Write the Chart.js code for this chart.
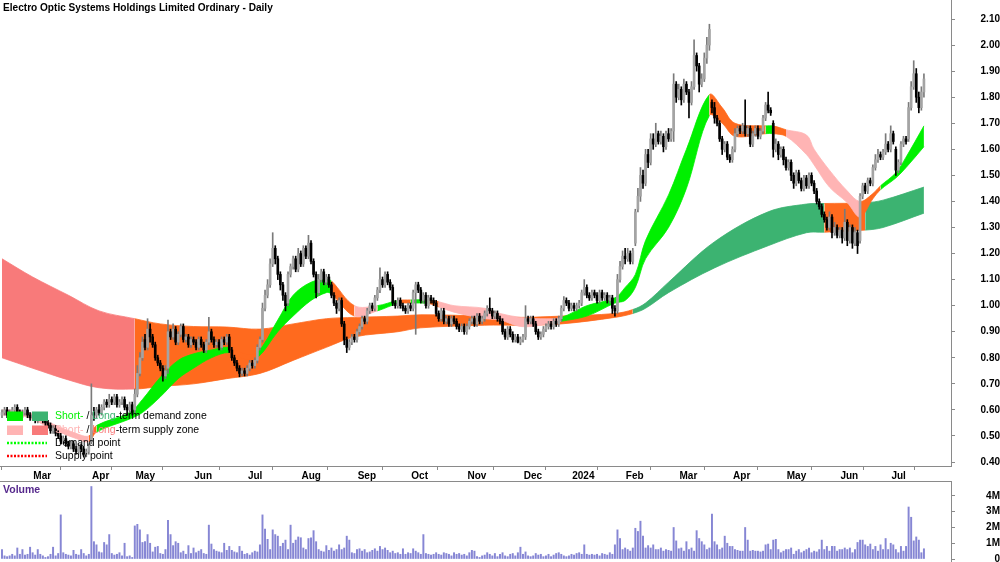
<!DOCTYPE html>
<html><head><meta charset="utf-8">
<script src="https://cdn.jsdelivr.net/npm/chart.js@4.4.1/dist/chart.umd.min.js"></script>
<style>
html,body{margin:0;padding:0;background:#fff;}
#wrap{position:relative;width:1000px;height:562px;overflow:hidden;background:#fff;}
#pc{position:absolute;left:0;top:0;}
#vc{position:absolute;left:0;top:481px;}
</style></head><body>
<div id="wrap"><canvas id="pc" width="1000" height="481"></canvas><canvas id="vc" width="1000" height="81"></canvas></div>
<script>
// ---------- DATA ----------
const titleText = 'Electro Optic Systems Holdings Limited Ordinary - Daily';
const monthStart = [12,35,52,75,96,117,139,160,182,204,223,244,265,286,307,328,348];
const monthLabels = ['Mar','Apr','May','Jun','Jul','Aug','Sep','Oct','Nov','Dec','2024','Feb','Mar','Apr','May','Jun','Jul'];
const priceTicks = [0.40,0.50,0.60,0.70,0.80,0.90,1.00,1.10,1.20,1.30,1.40,1.50,1.60,1.70,1.80,1.90,2.00,2.10];
const volumeTicks = [0,1,2,3,4];

const openP = [
0.58,0.59,0.60,0.58,0.59,0.60,0.61,0.59,0.58,0.59,
0.60,0.58,0.57,0.58,0.56,0.57,0.58,0.56,0.55,0.54,
0.52,0.53,0.51,0.50,0.48,0.49,0.47,0.46,0.47,0.45,
0.44,0.46,0.45,0.43,0.44,0.48,0.59,0.58,0.60,0.59,
0.61,0.63,0.62,0.64,0.63,0.65,0.62,0.63,0.64,0.61,
0.60,0.62,0.60,0.66,0.74,0.80,0.87,0.84,0.91,0.88,
0.85,0.80,0.78,0.76,0.73,0.76,0.90,0.88,0.91,0.86,
0.89,0.92,0.87,0.88,0.85,0.87,0.86,0.84,0.87,0.85,
0.83,0.86,0.90,0.87,0.85,0.86,0.84,0.87,0.86,0.88,
0.83,0.80,0.78,0.76,0.74,0.75,0.74,0.76,0.78,0.77,
0.79,0.84,0.87,0.99,1.04,1.08,1.16,1.22,1.18,1.12,
1.08,1.04,1.01,1.12,1.15,1.18,1.14,1.20,1.16,1.22,
1.19,1.24,1.17,1.12,1.05,1.10,1.13,1.09,1.11,1.08,
1.04,1.01,0.99,1.02,0.93,0.87,0.84,0.86,0.88,0.87,
0.90,0.92,0.95,0.94,0.98,1.00,0.99,1.03,1.06,1.10,
1.08,1.12,1.09,1.07,1.01,1.00,1.02,1.00,0.99,0.98,
1.00,0.99,1.05,1.08,1.06,1.02,1.04,1.00,1.03,1.02,
1.01,0.97,0.95,0.98,0.94,0.95,0.93,0.95,0.94,0.92,
0.91,0.92,0.90,0.92,0.94,0.95,0.93,0.96,0.94,0.95,
0.97,0.99,0.98,0.96,0.97,0.95,0.94,0.90,0.88,0.91,
0.89,0.87,0.88,0.86,0.87,0.88,0.95,0.94,0.95,0.93,
0.90,0.88,0.89,0.91,0.92,0.93,0.92,0.94,0.93,0.95,
0.99,1.02,1.01,0.99,1.00,0.99,1.00,1.01,1.05,1.07,
1.04,1.03,1.05,1.04,1.02,1.05,1.03,1.04,1.02,1.03,
0.99,0.98,1.10,1.15,1.19,1.18,1.20,1.17,1.24,1.37,
1.42,1.50,1.47,1.58,1.55,1.64,1.62,1.66,1.63,1.65,
1.61,1.66,1.64,1.67,1.85,1.80,1.83,1.79,1.85,1.82,
1.78,1.84,1.96,1.92,1.85,1.87,1.95,2.00,1.78,1.76,
1.72,1.70,1.64,1.60,1.62,1.57,1.56,1.60,1.66,1.68,
1.67,1.69,1.66,1.68,1.62,1.66,1.68,1.65,1.67,1.72,
1.77,1.75,1.70,1.60,1.62,1.58,1.60,1.56,1.53,1.55,
1.50,1.47,1.51,1.48,1.45,1.49,1.46,1.50,1.47,1.44,
1.40,1.38,1.35,1.33,1.30,1.34,1.28,1.30,1.27,1.29,
1.26,1.32,1.25,1.30,1.24,1.28,1.25,1.42,1.46,1.44,
1.48,1.47,1.53,1.56,1.58,1.57,1.59,1.62,1.60,1.66,
1.60,1.52,1.55,1.62,1.64,1.64,1.76,1.84,1.89,1.80,
1.76,1.82];

const highP = [
0.60,0.61,0.61,0.60,0.61,0.62,0.62,0.60,0.60,0.61,
0.61,0.59,0.59,0.59,0.58,0.59,0.59,0.57,0.56,0.55,
0.54,0.54,0.52,0.51,0.50,0.50,0.48,0.48,0.48,0.46,
0.47,0.47,0.46,0.45,0.47,0.70,0.61,0.61,0.62,0.62,
0.64,0.64,0.66,0.65,0.66,0.66,0.64,0.65,0.65,0.62,
0.63,0.63,0.68,0.77,0.82,0.88,0.89,0.95,0.93,0.89,
0.86,0.81,0.79,0.77,0.77,0.945,0.91,0.93,0.92,0.90,
0.93,0.93,0.89,0.89,0.88,0.88,0.87,0.88,0.88,0.86,
0.87,0.955,0.91,0.88,0.87,0.87,0.88,0.88,0.89,0.89,
0.84,0.81,0.79,0.77,0.76,0.76,0.77,0.79,0.79,0.80,
0.85,0.88,1.01,1.06,1.10,1.18,1.28,1.23,1.19,1.13,
1.09,1.05,1.13,1.16,1.19,1.19,1.22,1.21,1.23,1.23,
1.27,1.25,1.18,1.13,1.12,1.14,1.14,1.12,1.12,1.09,
1.05,1.02,1.03,1.03,0.94,0.88,0.87,0.89,0.89,0.91,
0.93,0.96,0.96,0.99,1.01,1.01,1.04,1.07,1.145,1.11,
1.13,1.13,1.10,1.08,1.02,1.03,1.03,1.01,1.00,1.01,
1.01,1.06,1.09,1.09,1.07,1.05,1.05,1.04,1.04,1.03,
1.02,0.98,0.99,0.99,0.96,0.96,0.96,0.96,0.95,0.93,
0.93,0.93,0.93,0.95,0.96,0.96,0.97,0.97,0.96,0.98,
1.00,1.03,0.99,0.98,0.98,0.96,0.95,0.91,0.92,0.92,
0.90,0.89,0.89,0.88,0.89,1.00,0.96,0.96,0.96,0.94,
0.91,0.90,0.92,0.93,0.94,0.94,0.95,0.95,0.96,1.00,
1.035,1.03,1.02,1.01,1.01,1.01,1.02,1.06,1.10,1.08,
1.05,1.06,1.06,1.05,1.06,1.06,1.05,1.05,1.04,1.04,
1.00,1.12,1.17,1.21,1.22,1.22,1.21,1.22,1.37,1.45,
1.53,1.52,1.60,1.60,1.66,1.66,1.70,1.67,1.67,1.66,
1.67,1.68,1.68,1.89,1.86,1.85,1.84,1.87,1.86,1.83,
1.86,2.02,1.97,1.93,1.89,1.97,2.03,2.08,1.79,1.78,
1.73,1.71,1.65,1.63,1.63,1.58,1.61,1.68,1.69,1.69,
1.70,1.79,1.69,1.69,1.67,1.69,1.69,1.68,1.73,1.78,
1.82,1.76,1.71,1.64,1.63,1.61,1.61,1.57,1.56,1.56,
1.51,1.52,1.52,1.49,1.50,1.50,1.51,1.51,1.48,1.45,
1.41,1.39,1.36,1.34,1.36,1.35,1.32,1.31,1.30,1.30,
1.37,1.33,1.31,1.31,1.30,1.29,1.43,1.47,1.47,1.49,
1.49,1.54,1.58,1.60,1.59,1.60,1.66,1.63,1.69,1.67,
1.61,1.56,1.63,1.65,1.65,1.78,1.86,1.94,1.91,1.82,
1.84,1.89];

const lowP = [
0.57,0.58,0.57,0.57,0.58,0.59,0.58,0.57,0.57,0.58,
0.57,0.56,0.56,0.55,0.55,0.56,0.55,0.54,0.53,0.51,
0.51,0.50,0.49,0.47,0.47,0.46,0.45,0.45,0.44,0.43,
0.43,0.44,0.42,0.42,0.43,0.47,0.56,0.57,0.58,0.58,
0.60,0.61,0.61,0.62,0.62,0.61,0.61,0.62,0.60,0.58,
0.59,0.58,0.59,0.65,0.73,0.79,0.83,0.83,0.86,0.84,
0.79,0.77,0.75,0.71,0.72,0.74,0.87,0.87,0.85,0.85,
0.88,0.86,0.86,0.84,0.84,0.85,0.83,0.83,0.84,0.82,
0.82,0.85,0.86,0.84,0.84,0.83,0.83,0.85,0.85,0.82,
0.79,0.77,0.75,0.727,0.73,0.73,0.73,0.75,0.76,0.76,
0.78,0.83,0.86,0.98,1.03,1.07,1.15,1.16,1.10,1.06,
1.02,0.98,1.00,1.11,1.14,1.13,1.13,1.15,1.15,1.18,
1.18,1.16,1.11,1.03,1.04,1.09,1.08,1.08,1.07,1.03,
1.00,0.97,0.98,0.92,0.85,0.82,0.83,0.85,0.86,0.86,
0.89,0.91,0.93,0.93,0.97,0.98,0.98,1.02,1.05,1.07,
1.07,1.08,1.06,1.00,0.99,0.99,0.99,0.98,0.97,0.97,
0.98,0.98,0.89,1.05,1.01,1.01,0.99,0.99,1.01,1.00,
0.96,0.94,0.94,0.93,0.93,0.92,0.92,0.93,0.91,0.90,
0.90,0.89,0.89,0.91,0.93,0.92,0.92,0.93,0.93,0.94,
0.96,0.97,0.95,0.95,0.94,0.93,0.89,0.87,0.87,0.88,
0.86,0.86,0.857,0.85,0.86,0.87,0.93,0.93,0.92,0.89,
0.87,0.87,0.88,0.90,0.91,0.91,0.91,0.92,0.92,0.94,
0.98,1.00,0.98,0.98,0.98,0.98,0.99,1.00,1.04,1.03,
1.02,1.02,1.03,1.01,1.01,1.02,1.02,1.01,1.01,0.97,
0.96,0.97,1.09,1.14,1.16,1.17,1.16,1.16,1.23,1.36,
1.40,1.45,1.46,1.53,1.54,1.60,1.61,1.62,1.62,1.59,
1.60,1.63,1.63,1.63,1.78,1.79,1.77,1.78,1.81,1.72,
1.77,1.83,1.90,1.82,1.84,1.86,1.93,1.98,1.74,1.70,
1.69,1.63,1.58,1.59,1.56,1.55,1.55,1.59,1.65,1.66,
1.66,1.65,1.65,1.61,1.61,1.65,1.64,1.64,1.66,1.71,
1.74,1.73,1.57,1.59,1.56,1.57,1.54,1.52,1.52,1.48,
1.45,1.46,1.47,1.44,1.44,1.45,1.45,1.46,1.43,1.39,
1.37,1.34,1.32,1.29,1.29,1.26,1.27,1.26,1.26,1.24,
1.25,1.23,1.24,1.22,1.23,1.20,1.24,1.41,1.43,1.43,
1.46,1.46,1.52,1.55,1.56,1.56,1.58,1.59,1.59,1.62,
1.50,1.51,1.54,1.61,1.62,1.63,1.75,1.83,1.78,1.74,
1.75,1.80];

const closeP = [
0.59,0.60,0.58,0.59,0.60,0.61,0.59,0.58,0.59,0.60,
0.58,0.57,0.58,0.56,0.57,0.58,0.56,0.55,0.54,0.52,
0.53,0.51,0.50,0.48,0.49,0.47,0.46,0.47,0.45,0.44,
0.46,0.45,0.43,0.44,0.46,0.58,0.58,0.60,0.59,0.61,
0.63,0.62,0.64,0.63,0.65,0.62,0.63,0.64,0.61,0.60,
0.62,0.59,0.66,0.74,0.80,0.86,0.84,0.91,0.88,0.85,
0.80,0.78,0.76,0.73,0.75,0.90,0.88,0.91,0.86,0.89,
0.92,0.87,0.88,0.85,0.87,0.86,0.84,0.87,0.85,0.83,
0.86,0.90,0.87,0.85,0.86,0.84,0.87,0.86,0.88,0.83,
0.80,0.78,0.76,0.74,0.75,0.74,0.76,0.78,0.77,0.79,
0.84,0.87,0.99,1.04,1.08,1.16,1.22,1.18,1.12,1.08,
1.04,1.00,1.12,1.15,1.18,1.14,1.20,1.16,1.22,1.19,
1.24,1.17,1.12,1.05,1.10,1.13,1.09,1.11,1.08,1.04,
1.01,0.99,1.02,0.93,0.87,0.84,0.86,0.88,0.87,0.90,
0.92,0.95,0.94,0.98,1.00,0.99,1.03,1.06,1.10,1.08,
1.12,1.09,1.07,1.01,1.00,1.02,1.00,0.99,0.98,1.00,
0.99,1.05,1.08,1.06,1.02,1.04,1.00,1.03,1.02,1.01,
0.97,0.95,0.98,0.94,0.95,0.93,0.95,0.94,0.92,0.91,
0.92,0.90,0.92,0.94,0.95,0.93,0.96,0.94,0.95,0.97,
0.99,0.98,0.96,0.97,0.95,0.94,0.90,0.88,0.91,0.89,
0.87,0.88,0.86,0.87,0.88,0.95,0.94,0.95,0.93,0.90,
0.88,0.89,0.91,0.92,0.93,0.92,0.94,0.93,0.95,0.99,
1.02,1.01,0.99,1.00,0.99,1.00,1.01,1.05,1.07,1.04,
1.03,1.05,1.04,1.02,1.05,1.03,1.04,1.02,1.03,0.99,
0.98,1.10,1.15,1.19,1.18,1.20,1.17,1.21,1.36,1.42,
1.50,1.47,1.58,1.55,1.64,1.62,1.66,1.63,1.65,1.61,
1.66,1.64,1.67,1.85,1.80,1.83,1.79,1.85,1.82,1.78,
1.84,1.96,1.92,1.85,1.87,1.95,2.00,2.06,1.76,1.72,
1.70,1.64,1.60,1.62,1.57,1.56,1.60,1.66,1.68,1.67,
1.69,1.66,1.68,1.62,1.66,1.68,1.65,1.67,1.72,1.77,
1.75,1.74,1.60,1.62,1.58,1.60,1.56,1.53,1.55,1.50,
1.47,1.51,1.48,1.45,1.49,1.46,1.50,1.47,1.44,1.40,
1.38,1.35,1.33,1.30,1.34,1.28,1.30,1.27,1.29,1.26,
1.32,1.25,1.30,1.24,1.28,1.23,1.42,1.46,1.44,1.48,
1.47,1.53,1.56,1.58,1.57,1.59,1.62,1.60,1.66,1.63,
1.52,1.55,1.62,1.64,1.63,1.76,1.84,1.89,1.80,1.76,
1.82,1.87];

// volume in millions of shares
const volumeM = [
0.6,0.2,0.15,0.2,0.3,0.2,0.7,0.3,0.6,0.25,
0.3,0.75,0.4,0.25,0.6,0.3,0.2,0.1,0.15,0.3,
0.75,0.2,0.35,2.8,0.4,0.3,0.25,0.2,0.55,0.3,
0.25,0.6,0.35,0.2,0.3,4.6,1.1,0.9,0.45,0.4,
1.05,0.9,1.55,0.35,0.25,0.3,0.4,0.2,1.0,0.15,
0.2,0.1,2.1,2.2,1.85,1.05,1.1,1.55,1.0,0.45,
0.75,0.8,0.35,0.3,0.6,2.45,1.55,0.85,1.1,1.0,
0.4,0.5,0.3,0.85,0.35,0.7,0.4,0.5,0.6,0.35,
0.3,2.15,0.95,0.6,0.5,0.45,0.4,1.0,0.55,0.8,
0.55,0.45,0.4,0.8,0.5,0.3,0.35,0.25,0.4,0.5,
0.45,0.9,2.8,1.9,1.25,0.6,1.85,1.55,1.45,0.8,
1.0,1.2,0.6,2.15,1.0,1.2,1.4,1.35,0.7,0.6,
1.3,1.35,1.8,1.1,0.6,0.5,0.45,0.85,0.55,0.7,
0.5,0.6,0.9,0.6,0.7,1.45,1.2,0.4,0.35,0.6,
0.65,0.5,0.6,0.4,0.45,0.55,0.65,0.5,0.8,0.6,
0.7,0.55,0.4,0.5,0.35,0.4,0.3,0.65,0.3,0.4,
0.35,0.65,0.5,0.4,0.3,1.55,0.35,0.3,0.25,0.3,
0.4,0.3,0.25,0.4,0.35,0.3,0.2,0.4,0.3,0.35,
0.25,0.3,0.2,0.4,0.55,0.5,0.15,0.1,0.2,0.25,
0.4,0.3,0.2,0.35,0.15,0.3,0.4,0.2,0.15,0.3,
0.35,0.2,0.4,0.75,0.3,0.45,0.2,0.15,0.2,0.35,
0.25,0.3,0.15,0.2,0.3,0.15,0.25,0.35,0.4,0.3,
0.2,0.15,0.2,0.3,0.25,0.35,0.4,0.3,0.9,0.3,
0.25,0.3,0.25,0.3,0.2,0.35,0.3,0.25,0.4,0.3,
0.9,1.85,1.3,0.6,0.7,0.6,0.5,0.7,1.95,1.75,
2.4,1.45,0.7,0.85,0.7,0.9,0.6,0.6,0.7,0.5,
0.6,0.55,0.5,2.0,1.15,0.65,0.7,0.5,1.1,0.6,
0.7,0.5,1.8,1.3,1.1,0.9,0.6,0.7,2.85,1.1,
0.9,0.6,0.7,1.45,1.0,0.8,0.8,0.6,0.55,0.5,
0.5,2.0,1.2,0.5,0.55,0.5,0.5,0.45,0.5,0.9,
0.95,0.6,1.2,1.25,0.6,0.4,0.5,0.6,0.6,0.7,
0.3,0.5,0.6,0.4,0.5,0.6,0.7,0.4,0.5,0.45,
0.6,1.2,0.6,0.8,0.5,0.8,0.8,0.5,0.6,0.6,
0.7,0.6,0.7,0.4,0.6,1.05,1.2,1.2,0.9,0.8,
0.95,0.6,0.8,0.5,0.9,0.6,1.3,0.6,1.0,0.9,
0.6,0.4,0.8,0.5,0.8,3.3,2.65,1.15,1.4,1.2,
0.4,0.65];

// short-term zone (band) edges and state of the segment that starts at each point
const stIdx  = [0,9,19,29,34,37,50,55,62,69,75,82,89,95,100,108,114,121,127,129,138,147,155,160,167,171,177,189,195,203,211,219,229,240,244,248,252,261,268,277,282,287,299,302,307,315,318,324,331,336,341,344,350,354,361];
const stHigh = [0.600,0.595,0.550,0.510,0.500,0.540,0.590,0.640,0.725,0.790,0.815,0.830,0.840,0.815,0.820,0.945,1.040,1.090,1.100,1.095,1.000,1.000,1.020,1.022,1.022,1.015,1.000,0.990,0.970,0.955,0.950,0.955,1.000,1.030,1.070,1.120,1.250,1.425,1.600,1.810,1.760,1.700,1.690,1.690,1.675,1.655,1.600,1.520,1.440,1.400,1.430,1.460,1.510,1.570,1.690];
const stLow  = [0.580,0.575,0.530,0.490,0.478,0.515,0.565,0.590,0.650,0.720,0.760,0.800,0.820,0.795,0.800,0.900,0.960,1.020,1.050,1.045,0.960,0.980,1.008,1.010,1.008,0.995,0.975,0.950,0.945,0.920,0.925,0.940,0.960,1.010,1.020,1.070,1.180,1.300,1.450,1.730,1.700,1.650,1.660,1.660,1.650,1.580,1.540,1.455,1.395,1.340,1.410,1.445,1.490,1.530,1.610];
const stZone = ['ss','ss','ss','ss','n','sd','sd','sd','sd','sd','sd','sd','n','n','sd','sd','sd','sd','sd','n','ss','sd','n','sd','n','ss','ss','ss','ss','ss','ss','sd','sd','sd','sd','sd','sd','sd','sd','n','n','n','sd','n','ss','ss','ss','ss','ss','n','n','sd','sd','sd','sd'];

// long-term zone (band)
const ltIdx  = [0,12,26,38,52,62,75,88,101,114,127,138,155,164,189,203,219,240,247,252,261,279,300,315,322,338,345,361];
const ltHigh = [1.180,1.110,1.040,0.980,0.950,0.930,0.920,0.918,0.910,0.930,0.950,0.955,0.960,0.965,0.960,0.955,0.960,0.970,0.985,1.010,1.090,1.245,1.360,1.390,1.392,1.395,1.405,1.455];
const ltLow  = [0.800,0.760,0.715,0.685,0.680,0.690,0.700,0.720,0.740,0.790,0.840,0.880,0.900,0.915,0.925,0.925,0.930,0.955,0.970,0.990,1.050,1.145,1.230,1.280,1.282,1.290,1.300,1.355];
const ltZone = ['ls','ls','ls','ls','n','n','n','n','n','n','n','n','n','n','n','n','n','n','ld','ld','ld','ld','ld','ld','n','ld','ld','ld'];

// ---------- STYLE ----------
const ZONE = { sd:'#00f000', ld:'#3cb371', ss:'#ffb4b4', ls:'#f87a7a', n:'#ff6a1e' };
const UP_FILL = '#a4a4a4', UP_WICK = '#7a7a7a', DOWN = '#000000';
const AXIS = '#8a8a8a';
const FONT = '"Liberation Sans", Arial, sans-serif';
Chart.defaults.font.family = FONT;
Chart.defaults.color = '#000';

const XMIN = -0.78, XMAX = 371.6;
const N = closeP.length;
const idx = Array.from({length: N}, (_, i) => i);
const isUp = idx.map(i => closeP[i] >= openP[i]);

function bandSet(xs, ys, zones, fill) {
  return {
    type: 'line',
    data: xs.map((x, k) => ({x, y: ys[k]})),
    fill: fill,
    borderWidth: 0.8,
    pointRadius: 0,
    tension: 0.35,
    borderColor: ZONE[zones[0]],
    backgroundColor: ZONE[zones[0]],
    segment: {
      backgroundColor: c => ZONE[zones[c.p0DataIndex]],
      borderColor: c => ZONE[zones[c.p0DataIndex]]
    }
  };
}

const overlay = {
  id: 'overlay',
  afterDatasetsDraw(chart) {
    const c = chart.ctx;
    c.save();
    c.textBaseline = 'middle'; c.textAlign = 'left';
    c.font = 'bold 10.1px ' + FONT; c.fillStyle = '#000';
    c.fillText(titleText, 3, 8);
    // legend
    c.fillStyle = ZONE.sd; c.fillRect(7, 411.5, 16, 9.5);
    c.fillStyle = ZONE.ld; c.fillRect(32, 411.5, 16, 9.5);
    c.fillStyle = ZONE.ss; c.fillRect(7, 425.5, 16, 9.5);
    c.fillStyle = ZONE.ls; c.fillRect(32, 425.5, 16, 9.5);
    c.lineWidth = 2.5; c.setLineDash([2, 1.5]);
    c.strokeStyle = '#00ff00'; c.beginPath(); c.moveTo(7, 443); c.lineTo(47, 443); c.stroke();
    c.strokeStyle = '#ff0000'; c.beginPath(); c.moveTo(7, 456); c.lineTo(47, 456); c.stroke();
    c.setLineDash([]);
    c.font = '10.5px ' + FONT;
    const rows = [
      [416, [['Short-', ZONE.sd], [' / ', '#000'], ['Long', ZONE.ld], ['-term demand zone', '#000']]],
      [430.5, [['Short-', ZONE.ss], [' / ', '#000'], ['Long', ZONE.ls], ['-term supply zone', '#000']]],
      [443, [['Demand point', '#000']]],
      [456, [['Supply point', '#000']]]
    ];
    rows.forEach(([y, parts]) => {
      let x = 55;
      parts.forEach(([t, col]) => { c.fillStyle = col; c.fillText(t, x, y); x += c.measureText(t).width; });
    });
    c.restore();
  }
};

new Chart(document.getElementById('pc'), {
  type: 'bar',
  data: { datasets: [
    { type: 'bar', data: idx.map(i => ({x: i, y: [openP[i], closeP[i]]})),
      backgroundColor: idx.map(i => isUp[i] ? UP_FILL : DOWN), barThickness: 2, grouped: false, minBarLength: 1 },
    { type: 'bar', data: idx.map(i => ({x: i, y: [lowP[i], highP[i]]})),
      backgroundColor: idx.map(i => isUp[i] ? UP_WICK : DOWN), barThickness: 1, grouped: false },
    bandSet(stIdx, stHigh, stZone, '+1'),
    bandSet(stIdx, stLow, stZone, false),
    bandSet(ltIdx, ltHigh, ltZone, '+1'),
    bandSet(ltIdx, ltLow, ltZone, false)
  ]},
  options: {
    responsive: false, animation: false, events: [],
    layout: { padding: 0 },
    plugins: { legend: { display: false }, tooltip: { enabled: false } },
    scales: {
      x: {
        type: 'linear', min: XMIN, max: XMAX, offset: false,
        afterBuildTicks: s => { s.ticks = monthStart.map(v => ({value: v - 0.5})); },
        afterFit: s => { s.height = 15; s.paddingLeft = 0; s.paddingRight = 0; },
        ticks: { autoSkip: false, maxRotation: 0, minRotation: 0, align: 'start', padding: 0, labelOffset: 2,
                 font: { size: 10, weight: 'bold' }, color: '#000',
                 callback: (v, i) => monthLabels[i] },
        grid: { drawOnChartArea: false, drawTicks: true, tickLength: 4, color: AXIS },
        border: { display: true, color: AXIS }
      },
      y: {
        type: 'linear', position: 'right', min: 0.3847, max: 2.173, beginAtZero: false,
        afterBuildTicks: s => { s.ticks = priceTicks.map(v => ({value: v})); },
        afterFit: s => { s.width = 49; s.paddingTop = 0; s.paddingBottom = 0; },
        ticks: { autoSkip: false, crossAlign: 'far', padding: 22,
                 font: { size: 10, weight: 'bold' }, color: '#000',
                 callback: v => Number(v).toFixed(2) },
        grid: { drawOnChartArea: false, drawTicks: true, tickLength: 4, color: AXIS },
        border: { display: true, color: AXIS }
      }
    }
  },
  plugins: [overlay]
});

const volLabel = {
  id: 'volLabel',
  afterDraw(chart) {
    const c = chart.ctx; c.save();
    c.font = 'bold 10.5px ' + FONT; c.fillStyle = '#55288c';
    c.textBaseline = 'middle'; c.textAlign = 'left';
    c.fillText('Volume', 3, 9);
    c.restore();
  }
};

new Chart(document.getElementById('vc'), {
  type: 'bar',
  data: { datasets: [
    { type: 'bar', data: idx.map(i => ({x: i, y: volumeM[i]})), backgroundColor: '#8686d4', barThickness: 1.3 }
  ]},
  options: {
    responsive: false, animation: false, events: [],
    layout: { padding: 0 },
    plugins: { legend: { display: false }, tooltip: { enabled: false } },
    scales: {
      x: {
        type: 'linear', position: 'top', min: XMIN, max: XMAX, offset: false,
        afterFit: s => { s.height = 0; s.paddingLeft = 0; s.paddingRight = 0; },
        ticks: { display: false },
        grid: { display: false },
        border: { display: true, color: AXIS }
      },
      y: {
        type: 'linear', position: 'right', min: -0.19, max: 4.95, beginAtZero: false,
        afterBuildTicks: s => { s.ticks = volumeTicks.map(v => ({value: v})); },
        afterFit: s => { s.width = 49; s.paddingTop = 0; s.paddingBottom = 0; },
        ticks: { autoSkip: false, crossAlign: 'far', padding: 28,
                 font: { size: 10, weight: 'bold' }, color: '#000',
                 callback: v => v === 0 ? '0' : v + 'M' },
        grid: { drawOnChartArea: false, drawTicks: true, tickLength: 4, color: AXIS },
        border: { display: true, color: AXIS }
      }
    }
  },
  plugins: [volLabel]
});
</script>
</body></html>
